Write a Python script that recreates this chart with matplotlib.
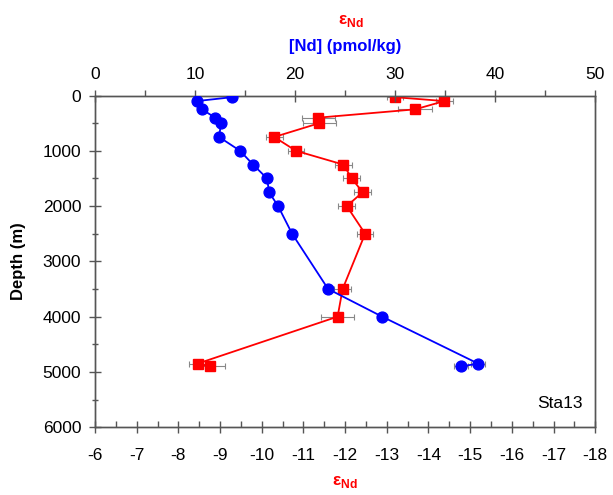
import matplotlib
matplotlib.use("Agg")
import matplotlib.pyplot as plt
from matplotlib.ticker import MultipleLocator

plt.rcParams['font.family'] = ['Liberation Sans', 'DejaVu Sans']
plt.rcParams['mathtext.fontset'] = 'custom'
plt.rcParams['mathtext.rm'] = 'Liberation Sans:bold'
plt.rcParams['mathtext.bf'] = 'Liberation Sans:bold'
plt.rcParams['axes.unicode_minus'] = False

# Nd concentration (blue), top axis
nd_depth = [30, 100, 250, 400, 500, 750, 1000, 1250, 1500, 1750, 2000, 2500, 3500, 4000, 4850, 4900]
nd_conc = [13.7, 10.2, 10.7, 12.0, 12.6, 12.4, 14.5, 15.8, 17.2, 17.4, 18.3, 19.7, 23.3, 28.7, 38.3, 36.6]
nd_err = [0.3, 0.3, 0.3, 0.3, 0.3, 0.3, 0.3, 0.3, 0.3, 0.3, 0.3, 0.3, 0.5, 0.5, 0.7, 0.7]

# epsilon Nd (red), bottom axis
eps_depth = [30, 100, 250, 400, 500, 750, 1000, 1250, 1500, 1750, 2000, 2500, 3500, 4000, 4850, 4900]
eps_nd = [-13.2, -14.38, -13.68, -11.36, -11.38, -10.3, -10.82, -11.96, -12.16, -12.42, -12.04, -12.48,
          -11.94, -11.82, -8.46, -8.76]
eps_err = [0.2, 0.2, 0.4, 0.4, 0.4, 0.2, 0.2, 0.2, 0.2, 0.2, 0.2, 0.2, 0.2, 0.4, 0.2, 0.35]

fig = plt.figure(figsize=(6.13, 4.95), dpi=100)
ax = fig.add_axes([0.155, 0.137, 0.816, 0.670])
ax2 = ax.twiny()

axis_col = '#555555'
tick_font = 12.5

# red epsilon Nd on bottom axis
ax.errorbar(eps_nd, eps_depth, xerr=eps_err, fmt='none', ecolor='#888888', elinewidth=0.8,
            capsize=2.5, capthick=0.8, zorder=2)
ax.plot(eps_nd, eps_depth, color='red', lw=1.3, marker='s', ms=6.5, zorder=3)
ax.set_xlim(-6, -18)
ax.set_ylim(6000, 0)
ax.xaxis.set_major_locator(MultipleLocator(1))
ax.xaxis.set_minor_locator(MultipleLocator(0.5))
ax.yaxis.set_major_locator(MultipleLocator(1000))
ax.yaxis.set_minor_locator(MultipleLocator(500))

# blue Nd on top axis
ax2.errorbar(nd_conc, nd_depth, xerr=nd_err, fmt='none', ecolor='#888888', elinewidth=0.8,
             capsize=2.5, capthick=0.8, zorder=2)
ax2.plot(nd_conc, nd_depth, color='blue', lw=1.3, marker='o', ms=7.8, zorder=3)
ax2.set_xlim(0, 50)
ax2.xaxis.set_major_locator(MultipleLocator(10))
ax2.xaxis.set_minor_locator(MultipleLocator(5))

for a in (ax, ax2):
    for s in a.spines.values():
        s.set_color(axis_col)
        s.set_linewidth(1.0)

ax.tick_params(axis='x', which='major', direction='inout', length=8, width=1, color=axis_col,
               labelsize=tick_font, pad=11)
ax.tick_params(axis='x', which='minor', direction='in', length=4, width=1, color=axis_col)
ax.tick_params(axis='y', which='major', direction='inout', length=8, width=1, color=axis_col,
               labelsize=tick_font, pad=6)
ax.tick_params(axis='y', which='minor', direction='inout', length=4, width=1, color=axis_col)
ax2.tick_params(axis='x', which='major', direction='inout', length=8, width=1, color=axis_col,
                labelsize=tick_font, pad=6)
ax2.tick_params(axis='x', which='minor', direction='out', length=4, width=1, color=axis_col)

ax.set_ylabel('Depth (m)', fontsize=12, fontweight='bold', labelpad=12)

eps_label = r'ε$_{\mathrm{Nd}}$'
ax.set_xlabel(eps_label, color='red', fontsize=12.5, fontweight='bold', labelpad=8)
ax2.set_xlabel('[Nd] (pmol/kg)', color='blue', fontsize=12, fontweight='bold', labelpad=11)
fig.text(0.572, 0.958, eps_label, color='red', fontsize=12.5, fontweight='bold', ha='center', va='center')

ax.text(0.975, 0.07, 'Sta13', transform=ax.transAxes, ha='right', va='center', fontsize=12.5)

fig.savefig('out.png', dpi=100)
